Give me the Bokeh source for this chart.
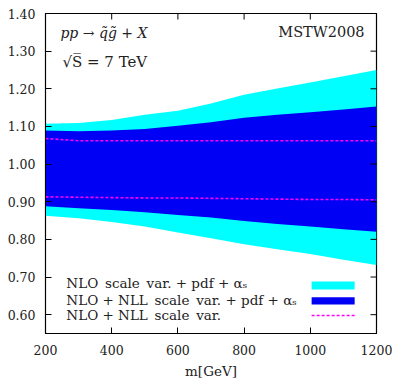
import math
from bokeh.plotting import figure
from bokeh.models import (FixedTicker, NumeralTickFormatter, Label,
                          BoxAnnotation, Range1d, ColumnDataSource)
from bokeh.embed import file_html
from bokeh.resources import INLINE

# ---- data ----
mass = [200, 300, 400, 500, 600, 700, 800, 900, 1000, 1100, 1200]
nlo_hi = [1.107, 1.109, 1.117, 1.131, 1.142, 1.161, 1.184, 1.201, 1.217, 1.233, 1.250]
nlo_lo = [0.863, 0.856, 0.846, 0.834, 0.818, 0.803, 0.787, 0.774, 0.761, 0.746, 0.732]
nll_hi = [1.089, 1.087, 1.089, 1.093, 1.102, 1.111, 1.123, 1.131, 1.138, 1.145, 1.153]
nll_lo = [0.888, 0.883, 0.878, 0.872, 0.865, 0.858, 0.849, 0.841, 0.834, 0.827, 0.820]
scale_hi = [1.068, 1.062, 1.062, 1.062, 1.062, 1.062, 1.062, 1.062, 1.062, 1.062, 1.062]
scale_lo = [0.913, 0.912, 0.911, 0.910, 0.910, 0.909, 0.908, 0.907, 0.906, 0.906, 0.905]

x_ticks = [200, 400, 600, 800, 1000, 1200]
y_ticks = [0.60, 0.70, 0.80, 0.90, 1.00, 1.10, 1.20, 1.30, 1.40]

SP = "\u2002"
legend_labels = ["NLO" + SP + "scale" + SP + "var. + pdf + \u03b1\u209b",
                 "NLO + NLL" + SP + "scale" + SP + "var. + pdf + \u03b1\u209b",
                 "NLO + NLL" + SP + "scale" + SP + "var."]

CYAN = "#00FFFF"
BLUE = "#0000F5"
MAGENTA = "#FF00FF"
FONT = "DejaVu Serif"
TXT = "#222222"
X0, X1, Y0, Y1 = 200, 1200, 0.55, 1.40

p = figure(frame_width=331, frame_height=320, output_backend="svg",
           toolbar_location=None, x_range=Range1d(X0, X1), y_range=Range1d(Y0, Y1),
           min_border_left=45, min_border_right=16, min_border_top=13, min_border_bottom=48)
p.background_fill_color = "white"
p.border_fill_color = "white"
p.outline_line_color = "black"
p.outline_line_width = 1.2
p.outline_line_alpha = 1.0
p.grid.visible = False

p.varea(x=mass, y1=nlo_lo, y2=nlo_hi, fill_color=CYAN)
p.varea(x=mass, y1=nll_lo, y2=nll_hi, fill_color=BLUE)
p.line(mass, scale_hi, line_color=MAGENTA, line_width=1.6, line_dash="3 2")
p.line(mass, scale_lo, line_color=MAGENTA, line_width=1.6, line_dash="3 2")

# mirrored inward ticks on top and right (half of each dash is clipped by the frame)
p.scatter(x=x_ticks, y=[Y1] * len(x_ticks), marker="dash", size=12, angle=math.pi / 2,
          line_color="black", line_width=1)
p.scatter(x=[X1] * len(y_ticks), y=y_ticks, marker="dash", size=12,
          line_color="black", line_width=1)

for ax in (p.xaxis[0], p.yaxis[0]):
    ax.major_tick_in = 6
    ax.major_tick_out = 0
    ax.minor_tick_line_color = None
    ax.axis_line_color = "black"
    ax.major_tick_line_color = "black"
    ax.major_label_text_font = FONT
    ax.major_label_text_font_size = "12.5px"
    ax.major_label_text_color = TXT

xa = p.xaxis[0]
ya = p.yaxis[0]
xa.ticker = FixedTicker(ticks=x_ticks)
ya.ticker = FixedTicker(ticks=y_ticks)
ya.formatter = NumeralTickFormatter(format="0.00")
xa.major_label_standoff = 11
ya.major_label_standoff = 10
xa.axis_label = "m[GeV]"
xa.axis_label_text_font = FONT
xa.axis_label_text_font_style = "normal"
xa.axis_label_text_font_size = "13.5px"
xa.axis_label_standoff = 5
xa.axis_label_text_color = TXT

# ---- annotations ----
p.add_layout(Label(x=245, y=1.347, text="pp \u2192 q\u0303g\u0303 + X", text_font=FONT,
                   text_font_style="italic", text_font_size="14px", text_baseline="middle",
                   text_color=TXT))
p.add_layout(Label(x=251, y=1.270, text="\u221aS\u0305 = 7 TeV", text_font=FONT,
                   text_font_size="15px", text_baseline="middle", text_color=TXT))
p.add_layout(Label(x=1164, y=1.350, text="MSTW2008", text_font=FONT, text_align="right",
                   text_font_size="14.5px", text_baseline="middle", text_color=TXT))

leg_x = 263
leg_y = [0.683, 0.640, 0.598]
for t, yy in zip(legend_labels, leg_y):
    p.add_layout(Label(x=leg_x, y=yy, text=t, text_font=FONT, text_font_size="13.5px",
                       text_baseline="middle", text_color=TXT))

sw_l, sw_r = 1004, 1134
p.add_layout(BoxAnnotation(left=sw_l, right=sw_r, bottom=0.667, top=0.688,
                           fill_color=CYAN, fill_alpha=1, line_color=None))
p.add_layout(BoxAnnotation(left=sw_l, right=sw_r, bottom=0.627, top=0.646,
                           fill_color=BLUE, fill_alpha=1, line_color=None))
seg = ColumnDataSource(dict(x0=[sw_l], x1=[sw_r], y0=[leg_y[2]], y1=[leg_y[2]]))
p.segment(x0="x0", y0="y0", x1="x1", y1="y1", source=seg, line_color=MAGENTA,
          line_width=1.6, line_dash="3 2")

open("out.html", "w").write(file_html(p, INLINE))
